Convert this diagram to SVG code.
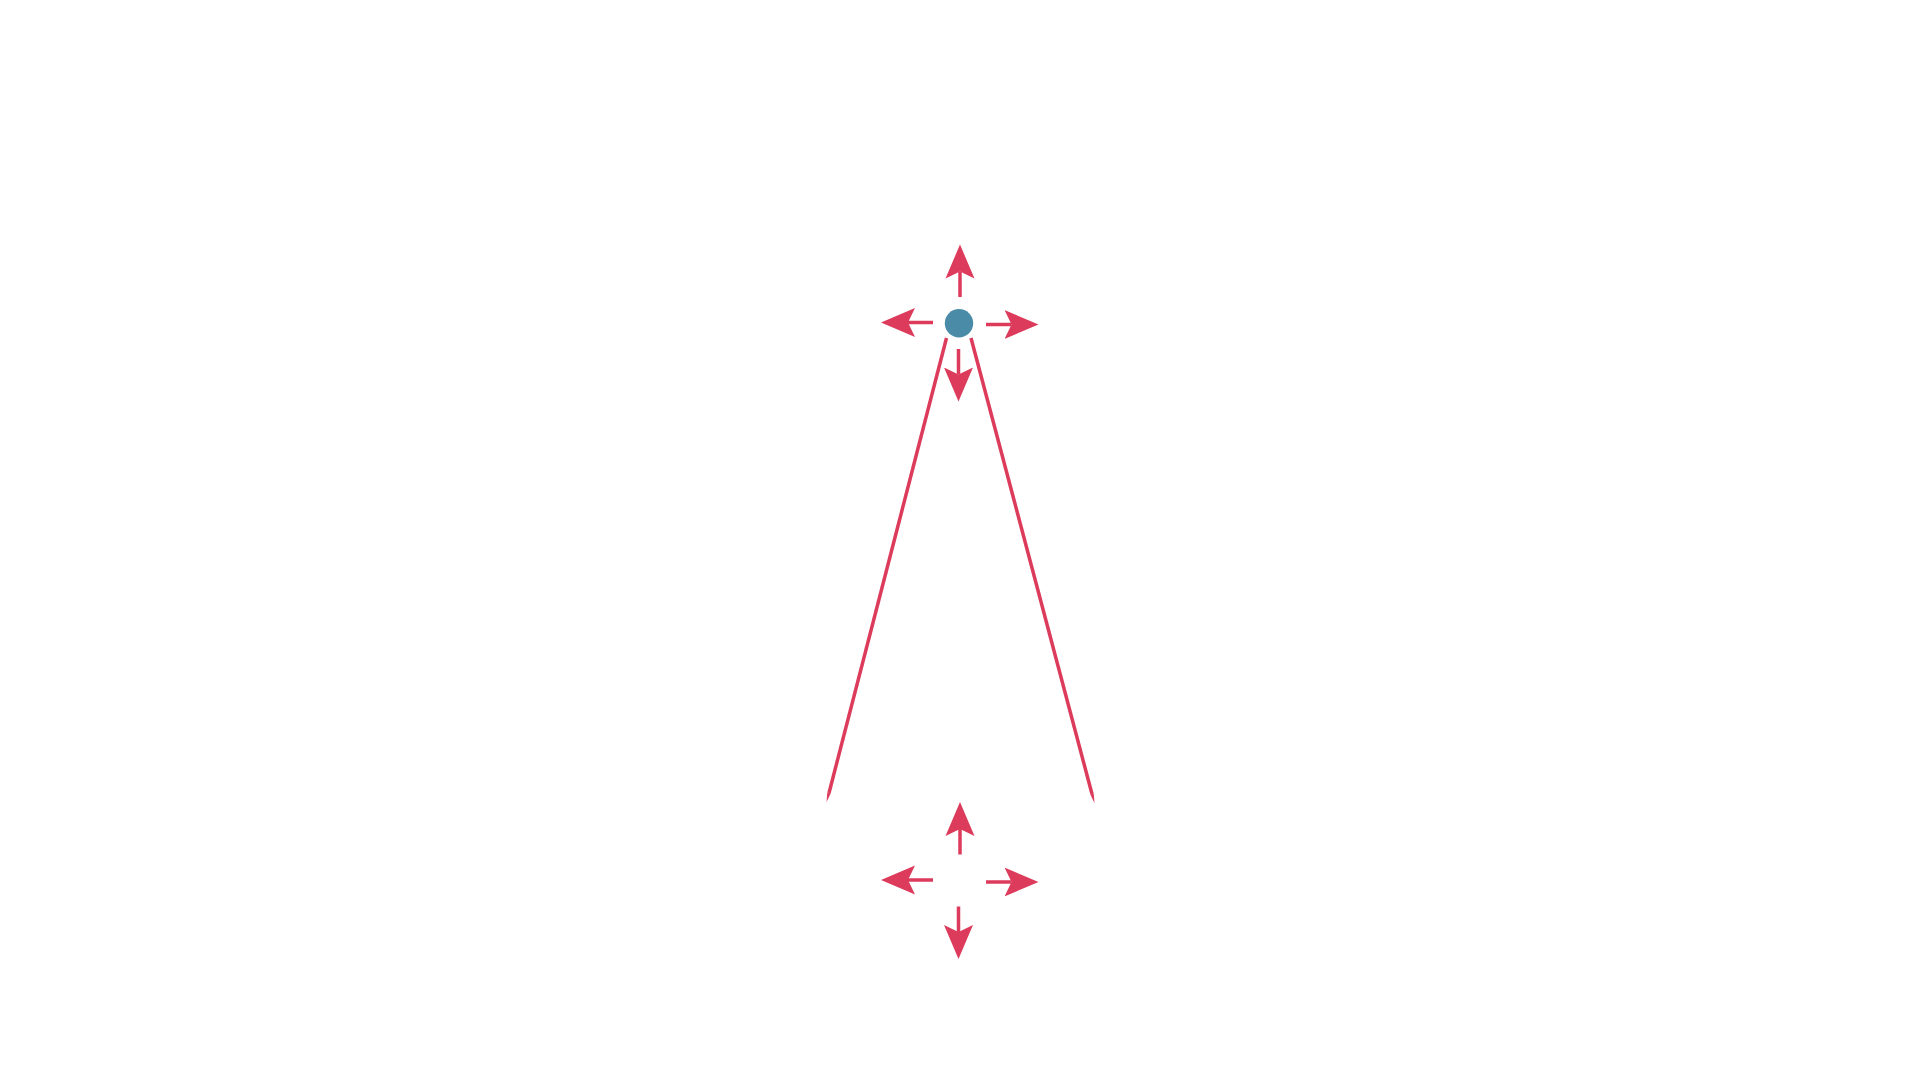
<svg xmlns="http://www.w3.org/2000/svg" width="1920" height="1080" viewBox="0 0 1920 1080">
  <style>
    .edge { stroke: #DC3B5B; stroke-width: 3.5; fill: none; stroke-linecap: butt; }
    .arr { marker-end: url(#head); }
    .node { fill: #4A8BA8; }
    .tip { fill: #DC3B5B; }
  </style>
  <defs>
    <marker id="head" markerUnits="userSpaceOnUse" viewBox="0 -15 35 30" refX="7" refY="0" markerWidth="35" markerHeight="30" orient="auto">
      <path d="M0,-14.5 L34,0 L0,14.5 L7,0 Z" fill="#DC3B5B"/>
    </marker>
  </defs>
  <rect width="1920" height="1080" fill="#FFFFFF"/>
  <g id="connectors">
    <g id="top-arrows">
      <line class="edge arr" x1="960" y1="297" x2="960" y2="271.5"/>
      <line class="edge arr" x1="933" y1="322.5" x2="908" y2="322.5"/>
      <line class="edge arr" x1="986" y1="324.5" x2="1011.5" y2="324.5"/>
      <line class="edge arr" x1="958.5" y1="349" x2="958.5" y2="374.5"/>
    </g>
    <g id="bottom-arrows">
      <line class="edge arr" x1="960" y1="854.5" x2="960" y2="829"/>
      <line class="edge arr" x1="933" y1="880" x2="908" y2="880"/>
      <line class="edge arr" x1="986" y1="882" x2="1011.5" y2="882"/>
      <line class="edge arr" x1="958.5" y1="906.5" x2="958.5" y2="932"/>
    </g>
    <g id="legs">
      <line class="edge" x1="946.5" y1="338" x2="829" y2="793"/>
      <polygon class="tip" points="827.3,792.6 830.7,793.4 826.5,802"/>
      <line class="edge" x1="971" y1="338" x2="1092" y2="794"/>
      <polygon class="tip" points="1090.3,794.4 1093.7,793.6 1094.5,803"/>
    </g>
  </g>
  <g id="node-center">
    <circle class="node" cx="959" cy="323.3" r="14.2"/>
  </g>
</svg>
